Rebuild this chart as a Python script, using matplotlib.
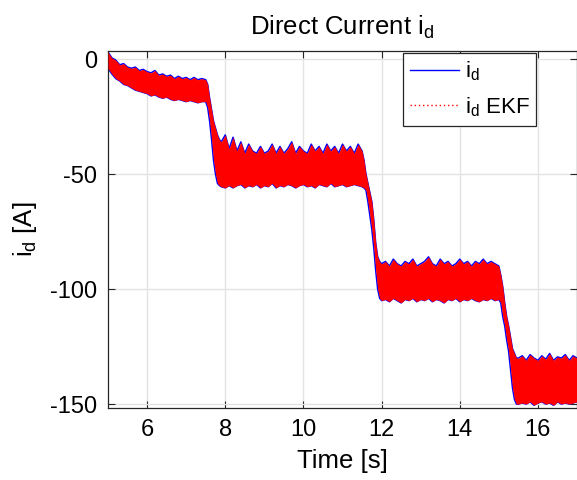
import numpy as np
import matplotlib
matplotlib.use('Agg')
import matplotlib.pyplot as plt
from matplotlib.lines import Line2D

plt.rcParams['font.family'] = ['Liberation Sans', 'DejaVu Sans']
plt.rcParams['mathtext.fontset'] = 'custom'
plt.rcParams['mathtext.rm'] = 'Liberation Sans'
plt.rcParams['mathtext.it'] = 'Liberation Sans:italic'
plt.rcParams['axes.unicode_minus'] = False

t_ramp1 = [5.0, 5.1, 5.2, 5.3, 5.4, 5.5, 5.6, 5.7, 5.8, 5.9, 6.0, 6.1, 6.2, 6.3, 6.4,
           6.5, 6.6, 6.7, 6.8, 6.9, 7.0, 7.1, 7.2, 7.3, 7.4, 7.5]
up_ramp1 = [3.0, 0.5, -0.5, -2.5, -2.0, -3.5, -4.0, -3.5, -5.0, -4.5, -5.5, -6.0, -5.0, -7.0, -6.5,
            -7.5, -7.0, -8.5, -7.5, -8.5, -8.0, -9.0, -8.0, -9.0, -8.5, -9.0]
lo_ramp1 = [-4.0, -6.5, -8.5, -9.5, -11.0, -11.5, -12.5, -13.5, -14.0, -14.5, -15.0, -16.0, -15.5, -16.5, -17.0,
            -16.5, -17.5, -18.0, -17.5, -18.0, -18.5, -18.0, -18.5, -19.0, -18.5, -18.5]

t_drop1 = [7.55, 7.6, 7.65, 7.7, 7.75, 7.8, 7.85]
up_drop1 = [-11, -17, -22, -27, -30, -33, -35]
lo_drop1 = [-21, -27, -35, -44, -50, -54, -55]

t_step2 = [7.9, 8.0, 8.1, 8.2, 8.3, 8.4, 8.5, 8.6, 8.7, 8.8, 8.9, 9.0, 9.1, 9.2, 9.3, 9.4, 9.5, 9.6, 9.7,
           9.8, 9.9, 10.0, 10.1, 10.2, 10.3, 10.4, 10.5, 10.6, 10.7, 10.8, 10.9, 11.0, 11.1, 11.2, 11.3,
           11.4, 11.5]
up_step2 = [-36, -33, -39, -34, -40, -36, -41, -37, -40, -41, -38, -41, -40, -37, -41, -38, -41, -39, -36,
            -41, -38, -40, -41, -37, -40, -38, -41, -37, -40, -38, -41, -37, -40, -38, -41,
            -37, -40]
lo_step2 = [-55.5, -56, -55, -56, -55, -54.5, -56, -55, -55.5, -54.5, -56, -55, -55.5, -54, -56, -55, -55.5, -54.5, -55,
            -56, -55, -54.5, -55.5, -55, -56, -54.5, -55, -55.5, -54, -55.5, -55, -54.5, -55.5, -55, -54.5,
            -55, -55.5]

t_drop2 = [11.55, 11.6, 11.65, 11.7, 11.75, 11.8, 11.85, 11.9, 11.95]
up_drop2 = [-44, -50, -54, -58, -62, -70, -80, -86, -88]
lo_drop2 = [-56, -57, -62, -68, -74, -82, -92, -100, -104]

t_step3 = [12.0, 12.1, 12.2, 12.3, 12.4, 12.5, 12.6, 12.7, 12.8, 12.9, 13.0, 13.1, 13.2, 13.3, 13.4,
           13.5, 13.6, 13.7, 13.8, 13.9, 14.0, 14.1, 14.2, 14.3, 14.4, 14.5, 14.6, 14.7, 14.8, 14.9, 15.0]
up_step3 = [-89, -88, -90, -87, -89, -90, -88, -89, -87, -90, -89, -88, -86, -89, -90,
            -87, -89, -88, -90, -89, -87, -89, -88, -90, -88, -89, -87, -89, -88, -89, -90]
lo_step3 = [-105, -104.5, -105.5, -104, -105, -106, -104.5, -105, -104, -105.5, -104.5, -105, -104, -105.5, -104.5,
            -105, -106, -104.5, -105, -104, -105.5, -104.5, -105, -104, -105, -105.5, -104.5, -105, -104, -105, -104.5]

t_drop3 = [15.05, 15.1, 15.15, 15.2, 15.25, 15.3, 15.35, 15.4, 15.45, 15.5]
up_drop3 = [-94, -99, -106, -112, -116, -121, -126, -128, -130, -130]
lo_drop3 = [-106, -112, -116, -122, -127, -135, -143, -148, -150, -150]

t_step4 = [15.6, 15.7, 15.8, 15.9, 16.0, 16.1, 16.2, 16.3, 16.4, 16.5, 16.6, 16.7, 16.8, 16.9, 17.0]
up_step4 = [-129, -131, -128.5, -130, -131, -129, -130.5, -128, -131, -129.5, -130, -128.5, -131, -129, -130]
lo_step4 = [-149.5, -150, -149, -150.5, -149.5, -149, -150, -149.5, -150.5, -149, -150, -149.5, -150, -149.5, -149]

t = np.array(t_ramp1 + t_drop1 + t_step2 + t_drop2 + t_step3 + t_drop3 + t_step4)
upper = np.array(up_ramp1 + up_drop1 + up_step2 + up_drop2 + up_step3 + up_drop3 + up_step4)
lower = np.array(lo_ramp1 + lo_drop1 + lo_step2 + lo_drop2 + lo_step3 + lo_drop3 + lo_step4)

fig = plt.figure(figsize=(5.77, 4.80), dpi=100)
ax = fig.add_axes([108/577, 72/480, 469/577, 357/480])

# measured signal: blue outline, EKF estimate: red band on top
ax.plot(t, upper, color='#0000ff', lw=1.1, zorder=2)
ax.plot(t, lower, color='#0000ff', lw=1.1, zorder=2)
ax.fill_between(t, lower, upper, color='#ff0000', lw=0, zorder=3)

ax.set_xlim(5, 17)
ax.set_ylim(-151.7, 3.5)
ax.set_xticks([6, 8, 10, 12, 14, 16])
ax.set_yticks([-150, -100, -50, 0])
ax.grid(True, color='#e3e3e3', lw=1)
ax.set_axisbelow(True)
ax.tick_params(direction='in', labelsize=17, length=5, color='#262626',
               top=True, right=True, pad=8)
for s in ax.spines.values():
    s.set_color('#262626')
    s.set_linewidth(0.9)

ax.set_xlabel('Time [s]', fontsize=18.5, labelpad=6)
ax.set_ylabel(r'i$_\mathrm{d}$ [A]', fontsize=18.5, labelpad=8)
ax.set_title(r'Direct Current i$_\mathrm{d}$', fontsize=18.5, pad=12)

handles = [Line2D([], [], color='#0000ff', lw=1),
           Line2D([], [], color='#ff0000', lw=1, ls=(0, (1, 2)))]
leg = ax.legend(handles, [r'i$_\mathrm{d}$', r'i$_\mathrm{d}$ EKF'], loc='upper right',
                bbox_to_anchor=(0.913, 0.995), fontsize=16, fancybox=False,
                framealpha=1, edgecolor='#262626', handlelength=2.2,
                handletextpad=0.25, borderaxespad=0, borderpad=0.3, labelspacing=0.55)
leg.get_frame().set_linewidth(0.9)

fig.savefig('out.png', dpi=100)
